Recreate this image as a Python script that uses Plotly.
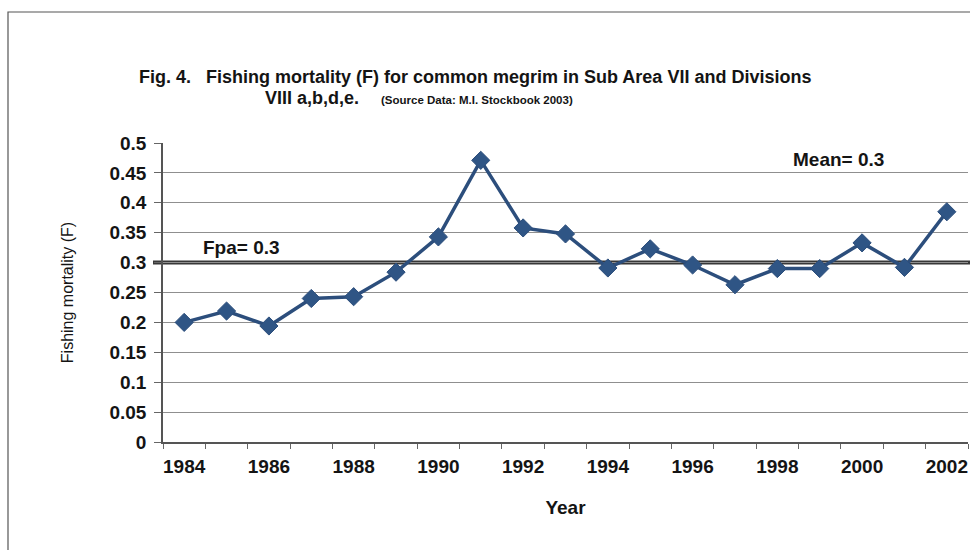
import plotly.graph_objects as go

years = list(range(1984, 2003))
fishing_mortality = [0.200, 0.219, 0.194, 0.240, 0.243, 0.284, 0.343, 0.471, 0.358, 0.348,
                     0.291, 0.323, 0.296, 0.263, 0.290, 0.290, 0.333, 0.292, 0.385]
fpa_value = 0.3
mean_value = 0.3
year_ticks = list(range(1984, 2003, 2))
f_ticks = [0, 0.05, 0.1, 0.15, 0.2, 0.25, 0.3, 0.35, 0.4, 0.45, 0.5]

SANS = "Liberation Sans, Arial, sans-serif"
NARROW = "Liberation Sans Narrow, Arial Narrow, Liberation Sans, sans-serif"
INK = "#141414"
W, H = 970, 550
ML, MR, MT, MB = 163, 2, 143, 108
pw, ph = W - ML - MR, H - MT - MB

def px_x(p):
    return (p - ML) / pw

def px_y(p):
    return (H - MB - p) / ph

fig = go.Figure()

fig.add_trace(go.Scatter(
    x=years, y=fishing_mortality, mode="lines+markers",
    line=dict(color="#2c4e7c", width=3.5),
    marker=dict(symbol="diamond", size=14, color="#2f5585",
                line=dict(color="#2c4e7c", width=1)),
    showlegend=False, hoverinfo="x+y",
))

# Fpa reference line
fig.add_shape(type="line", xref="paper", yref="y",
              x0=px_x(153), x1=1.01, y0=fpa_value, y1=fpa_value,
              line=dict(color="#383838", width=4), layer="below")

# Outer frame
fig.add_shape(type="rect", xref="paper", yref="paper",
              x0=px_x(8), x1=px_x(990), y0=px_y(570), y1=px_y(12),
              line=dict(color="#555555", width=1.2), layer="below")

fig.add_annotation(x=1985.35, y=0.326, text="<b>Fpa= %.1f</b>" % fpa_value,
                   showarrow=False, font=dict(family=SANS, size=19, color=INK))
fig.add_annotation(x=1999.44, y=0.472, text="<b>Mean= %.1f</b>" % mean_value,
                   showarrow=False, font=dict(family=SANS, size=19, color=INK))

# Title lines
fig.add_annotation(xref="paper", yref="paper", x=px_x(137), y=px_y(77),
                   xanchor="left", yanchor="middle",
                   text="<b>Fig. 4.   Fishing mortality (F) for common megrim in Sub Area VII and Divisions</b>",
                   showarrow=False, font=dict(family=NARROW, size=18, color=INK))
fig.add_annotation(xref="paper", yref="paper", x=px_x(263), y=px_y(98),
                   xanchor="left", yanchor="middle",
                   text="<b>VIII a,b,d,e.</b>",
                   showarrow=False, font=dict(family=NARROW, size=18, color=INK))
fig.add_annotation(xref="paper", yref="paper", x=px_x(379), y=px_y(100),
                   xanchor="left", yanchor="middle",
                   text="<b>(Source Data: M.I. Stockbook 2003)</b>",
                   showarrow=False, font=dict(family=SANS, size=11.5, color=INK))

fig.update_layout(
    width=W, height=H,
    margin=dict(l=ML, r=MR, t=MT, b=MB),
    paper_bgcolor="white", plot_bgcolor="white",
    font=dict(family=SANS, color=INK),
    xaxis=dict(
        range=[1983.5, 2002.5], tickvals=year_ticks,
        ticktext=["<b>%d</b>" % y for y in year_ticks],
        ticks="", showgrid=False, zeroline=False, ticklabelstandoff=6,
        showline=True, linecolor="#555555", linewidth=1.5,
        tickfont=dict(family=SANS, size=19, color=INK),
        title=dict(text="<b>Year</b>", font=dict(family=SANS, size=19, color=INK), standoff=25),
        minor=dict(tick0=1983.5, dtick=1, ticks="outside", ticklen=5, tickcolor="#666666", showgrid=False),
    ),
    yaxis=dict(
        range=[0, 0.5], tickvals=f_ticks,
        ticktext=["<b>%g</b>" % v for v in f_ticks],
        ticks="outside", ticklen=7, tickcolor="#666666", ticklabelstandoff=4,
        showgrid=True, gridcolor="#8f8f8f", gridwidth=1,
        zeroline=False, showline=True, linecolor="#555555", linewidth=1.5,
        tickfont=dict(family=SANS, size=19, color=INK),
        title=dict(text="Fishing mortality (F)", font=dict(family=SANS, size=16, color=INK), standoff=32),
    ),
)

fig.write_html("out.html")
